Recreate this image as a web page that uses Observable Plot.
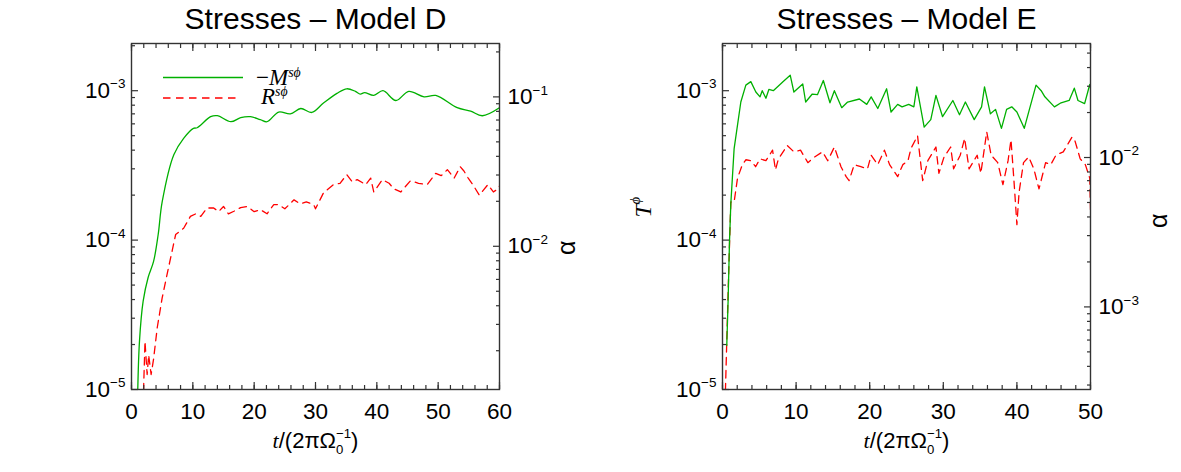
<!DOCTYPE html>
<html>
<head>
<meta charset="utf-8">
<script src="https://cdn.jsdelivr.net/npm/d3@7"></script>
<script src="https://cdn.jsdelivr.net/npm/@observablehq/plot@0.6"></script>
<style>
  body { margin: 0; background: #fff; }
  #wrap { position: relative; width: 1181px; height: 472px; overflow: hidden; }
  #wrap svg { position: absolute; top: 0; overflow: visible; }
</style>
</head>
<body>
<div id="wrap"></div>
<script>
// ---------------- DATA ----------------
// Model D: -M^{s phi} (green, solid)
const tD_M = [1.0, 1.3, 1.9, 2.7, 3.6, 4.35, 5.0, 6.9, 8.5, 10.1, 10.7, 12.9, 14.0, 16.2, 17.8, 19.4, 21.0, 22.1, 24.0, 25.9, 27.6, 29.4, 31.3, 33.5, 35.1, 36.5, 37.3, 38.0, 39.5, 41.0, 43.1, 45.2, 47.7, 49.6, 53.1, 55.3, 57.2, 60.0];
const vD_M = [9e-6, 2.1e-5, 3.9e-5, 5.6e-5, 7.2e-5, 1.09e-4, 1.8e-4, 3.73e-4, 4.8e-4, 5.6e-4, 5.65e-4, 6.7e-4, 6.8e-4, 6.2e-4, 6.6e-4, 6.7e-4, 6.4e-4, 6.2e-4, 7.2e-4, 7.0e-4, 7.6e-4, 7.15e-4, 8.26e-4, 9.6e-4, 1.03e-3, 9.9e-4, 9.5e-4, 9.7e-4, 9.3e-4, 1.0e-3, 8.6e-4, 9.9e-4, 9.1e-4, 9.3e-4, 7.7e-4, 7.3e-4, 6.8e-4, 7.7e-4];
// Model D: R^{s phi} (red, dashed)
const tD_R = [1.9, 2.2, 2.55, 2.8, 3.2, 3.6, 4.2, 5.0, 5.8, 7.2, 8.5, 9.6, 10.5, 11.3, 12.3, 13.4, 14.2, 15.0, 15.8, 16.7, 17.8, 18.9, 20.0, 21.0, 22.1, 23.2, 24.0, 25.0, 26.5, 27.5, 28.5, 29.7, 30.0, 31.3, 32.9, 34.0, 35.1, 36.0, 36.8, 38.2, 39.0, 39.5, 40.9, 42.0, 42.8, 43.9, 45.5, 46.8, 48.2, 49.6, 50.5, 51.5, 52.6, 53.6, 54.2, 54.9, 55.8, 56.7, 58.1, 59.0, 59.7, 60.0];
const vD_R = [8e-6, 2.1e-5, 1.26e-5, 1.7e-5, 1.26e-5, 1.6e-5, 2.6e-5, 4.1e-5, 5.9e-5, 1.09e-4, 1.2e-4, 1.44e-4, 1.5e-4, 1.44e-4, 1.64e-4, 1.64e-4, 1.55e-4, 1.68e-4, 1.5e-4, 1.56e-4, 1.65e-4, 1.68e-4, 1.55e-4, 1.6e-4, 1.5e-4, 1.73e-4, 1.73e-4, 1.62e-4, 1.86e-4, 1.75e-4, 1.8e-4, 1.73e-4, 1.62e-4, 2.07e-4, 2.35e-4, 2.4e-4, 2.74e-4, 2.45e-4, 2.54e-4, 2.35e-4, 2.6e-4, 2.1e-4, 2.54e-4, 2.4e-4, 2.2e-4, 2.1e-4, 2.5e-4, 2.4e-4, 2.35e-4, 2.8e-4, 2.7e-4, 2.96e-4, 2.6e-4, 3.1e-4, 2.9e-4, 2.6e-4, 2.3e-4, 2.0e-4, 2.35e-4, 2.1e-4, 2.2e-4, 2.3e-4];

// Model E: green (solid)
const tE_M = [0.58, 0.76, 0.95, 1.13, 1.58, 2.49, 3.17, 3.85, 4.53, 5.1, 5.4, 5.9, 6.3, 6.9, 8.4, 9.2, 9.7, 10.9, 11.3, 12.2, 12.9, 13.7, 14.6, 15.2, 16.2, 17.0, 18.6, 19.6, 20.2, 21.1, 22.3, 22.9, 23.8, 24.4, 25.3, 26.0, 26.4, 27.4, 28.3, 29.0, 29.9, 31.3, 32.2, 33.0, 34.2, 35.2, 35.6, 36.4, 37.1, 37.9, 38.6, 39.3, 40.0, 41.0, 41.7, 42.6, 43.3, 43.8, 45.1, 46.0, 47.1, 47.8, 48.3, 49.2, 49.9, 50.0];
const vE_M = [1.97e-5, 3.9e-5, 9.8e-5, 1.75e-4, 4.1e-4, 8.4e-4, 1.09e-3, 1.15e-3, 9.8e-4, 9.1e-4, 1.0e-3, 8.9e-4, 1.02e-3, 1.0e-3, 1.17e-3, 1.27e-3, 9.8e-4, 1.11e-3, 8.4e-4, 9.5e-4, 9.4e-4, 1.17e-3, 8.3e-4, 1.0e-3, 7.7e-4, 8.4e-4, 8.8e-4, 8.1e-4, 9.1e-4, 7.6e-4, 1.03e-3, 7.2e-4, 8.1e-4, 7.8e-4, 8.1e-4, 7.8e-4, 1.06e-3, 5.7e-4, 6.4e-4, 9.3e-4, 6.7e-4, 8.6e-4, 6.9e-4, 8.4e-4, 6.4e-4, 7.8e-4, 1.06e-3, 7.0e-4, 7.5e-4, 5.6e-4, 7.5e-4, 7.8e-4, 7.2e-4, 5.6e-4, 7.5e-4, 1.09e-3, 1.0e-3, 9.1e-4, 7.8e-4, 8.3e-4, 8.6e-4, 1.04e-3, 8.6e-4, 8.2e-4, 1.1e-3, 1.05e-3];
// Model E: red (dashed)
const tE_R = [0.35, 0.58, 0.86, 1.13, 1.58, 2.04, 2.7, 3.17, 3.85, 4.5, 5.1, 5.9, 6.8, 7.2, 7.6, 8.8, 9.7, 10.6, 11.6, 12.5, 13.6, 14.3, 15.2, 16.1, 16.8, 17.2, 17.9, 18.8, 19.7, 20.2, 21.1, 22.0, 22.7, 23.8, 24.5, 25.2, 25.6, 26.5, 27.2, 27.9, 29.0, 29.4, 30.1, 31.0, 31.4, 32.3, 32.9, 33.5, 34.6, 35.1, 35.9, 36.5, 37.4, 38.1, 38.8, 39.2, 39.6, 40.0, 40.3, 40.9, 41.6, 42.3, 43.0, 43.9, 44.6, 45.3, 46.3, 47.5, 47.9, 48.6, 49.3, 49.9, 50.0];
const vE_R = [8e-6, 2.1e-5, 6.6e-5, 1.8e-4, 1.8e-4, 2.6e-4, 3.2e-4, 3.45e-4, 3.4e-4, 3.1e-4, 3.5e-4, 3.4e-4, 4.0e-4, 2.95e-4, 3.5e-4, 4.3e-4, 3.9e-4, 4.0e-4, 3.3e-4, 3.6e-4, 3.9e-4, 3.4e-4, 4.2e-4, 3.1e-4, 2.66e-4, 2.5e-4, 3.2e-4, 3.1e-4, 3.0e-4, 3.7e-4, 3.2e-4, 4.0e-4, 3.2e-4, 2.66e-4, 3.2e-4, 3.4e-4, 4.1e-4, 5.0e-4, 2.5e-4, 3.4e-4, 4.2e-4, 2.8e-4, 3.6e-4, 4.2e-4, 3.0e-4, 3.7e-4, 4.8e-4, 3.0e-4, 3.7e-4, 2.8e-4, 5.3e-4, 3.7e-4, 3.3e-4, 2.35e-4, 3.4e-4, 4.7e-4, 2.5e-4, 1.27e-4, 2.1e-4, 3.3e-4, 3.6e-4, 3.0e-4, 2.2e-4, 3.3e-4, 3.2e-4, 3.7e-4, 3.9e-4, 4.9e-4, 4.6e-4, 3.5e-4, 3.2e-4, 2.6e-4, 1.6e-4];

// Axes / labels
const titles = ["Stresses – Model D", "Stresses – Model E"];
const xMaxD = 60, xMaxE = 50;
const xTicksD = [0, 10, 20, 30, 40, 50, 60];
const xTicksE = [0, 10, 20, 30, 40, 50];
const xTickLabelsD = ["0", "10", "20", "30", "40", "50", "60"];
const xTickLabelsE = ["0", "10", "20", "30", "40", "50"];
const yDomain = [1e-5, 2.07e-3];
const yTicks = [1e-5, 1e-4, 1e-3];
const yTickLabels = ["10^{−5}", "10^{−4}", "10^{−3}"];
const alphaFactorD = 110, alphaFactorE = 28;
const alphaTicksD = [1e-2, 1e-1];
const alphaTickLabelsD = ["10^{−2}", "10^{−1}"];
const alphaTicksE = [1e-3, 1e-2];
const alphaTickLabelsE = ["10^{−3}", "10^{−2}"];
const xLabel = "*t*/(2πΩ_{0}^{−1})";
const yLabelE = "*T*^{ϕ}";
const alphaLabel = "α";
// legend: [prefix, symbol, superscript]
const legendParts = [["−", "M", "sϕ"], ["", "R", "sϕ"]];

// ---------------- STYLE ----------------
const GREEN = "#00b000", RED = "#ff0000", INK = "#333";
const SANS = "'Liberation Sans', Arial, Helvetica, sans-serif";
const SERIF = "'Liberation Serif', 'Times New Roman', serif";
const W = 590, H = 472;
const ML = 131, MR = 91, MT = 43, MB = 83;

function logMinor(lo, hi) {
  const out = [];
  for (let e = Math.floor(Math.log10(lo)); e <= Math.ceil(Math.log10(hi)); e++)
    for (let k = 2; k <= 9; k++) { const v = k * Math.pow(10, e); if (v >= lo && v <= hi) out.push(v); }
  return out;
}
function stepMinor(max, step) { return d3.range(0, max + 1e-9, step); }

// tiny markup: *italic*, ^{super}, _{sub}
function richify(root) {
  d3.select(root).selectAll("text").each(function () {
    const s = this.textContent;
    if (!/[\^_*]/.test(s)) return;
    const fs = parseFloat(getComputedStyle(this).fontSize) || 22;
    this.textContent = "";
    const re = /\^\{([^}]*)\}|_\{([^}]*)\}|\*([^*]*)\*|([^^_*]+)/g;
    let m, shift = 0, lastSubW = 0;
    while ((m = re.exec(s))) {
      const ts = d3.select(this).append("tspan");
      let target = 0, txt;
      if (m[1] !== undefined) {
        txt = m[1]; target = -0.42 * fs; ts.attr("font-size", 0.6 * fs);
        if (lastSubW) ts.attr("dx", -lastSubW);
      } else if (m[2] !== undefined) {
        txt = m[2]; target = 0.3 * fs; ts.attr("font-size", 0.6 * fs);
      } else if (m[3] !== undefined) {
        txt = m[3]; ts.attr("font-style", "italic").attr("font-family", SERIF);
      } else txt = m[4];
      if (target !== shift) ts.attr("dy", target - shift);
      shift = target;
      ts.text(txt);
      lastSubW = m[2] !== undefined ? ts.node().getComputedTextLength() : 0;
    }
  });
}

function panel(o) {
  const green = o.tM.map((t, i) => ({t, v: o.vM[i]}));
  const red = o.tR.map((t, i) => ({t, v: o.vR[i]}));
  const f = o.alphaFactor;
  const yMinor = logMinor(yDomain[0], yDomain[1]);
  const aMajor = o.alphaTicks.map(a => a / f);
  const aMinor = logMinor(yDomain[0] * f, yDomain[1] * f).map(a => a / f);
  const xMinor = stepMinor(o.xMax, 2);
  const tk = {stroke: INK, strokeWidth: 1.2, tickFormat: () => "", label: null};
  const marks = [
    Plot.line(red, {x: "t", y: "v", stroke: RED, strokeWidth: 1.3, strokeDasharray: "7.5,5.5", clip: true}),
    Plot.line(green, {x: "t", y: "v", stroke: GREEN, strokeWidth: 1.3, clip: true, curve: o.curve}),
    Plot.frame({stroke: INK, strokeWidth: 1.4}),
    // x ticks (bottom & top, inward)
    Plot.axisX(o.xTicks, {anchor: "bottom", tickSize: 7, dy: -7, ...tk}),
    Plot.axisX(xMinor, {anchor: "bottom", tickSize: 4, dy: -4, ...tk}),
    Plot.axisX(o.xTicks, {anchor: "top", tickSize: 7, dy: 7, ...tk}),
    Plot.axisX(xMinor, {anchor: "top", tickSize: 4, dy: 4, ...tk}),
    // left y ticks
    Plot.axisY(yTicks, {anchor: "left", tickSize: 7, dx: 7, ...tk}),
    Plot.axisY(yMinor, {anchor: "left", tickSize: 4, dx: 4, ...tk}),
    // right alpha ticks
    Plot.axisY(aMajor, {anchor: "right", tickSize: 7, dx: -7, ...tk}),
    Plot.axisY(aMinor, {anchor: "right", tickSize: 4, dx: -4, ...tk}),
    // labels
    Plot.axisX(o.xTicks, {anchor: "bottom", tickSize: 0, tickPadding: 14, label: null,
      tickFormat: d => o.xTickLabels[o.xTicks.indexOf(d)]}),
    Plot.axisY(yTicks, {anchor: "left", tickSize: 0, tickPadding: 6, label: null,
      tickFormat: d => yTickLabels[yTicks.indexOf(d)]}),
    Plot.text(aMajor, {y: d => d, text: d => o.alphaTickLabels[aMajor.indexOf(d)],
      frameAnchor: "right", textAnchor: "start", lineAnchor: "middle", dx: 8}),
    Plot.text([o.title], {text: d => d, frameAnchor: "top", lineAnchor: "bottom", dy: -15, fontSize: 30}),
    Plot.text([xLabel], {text: d => d, frameAnchor: "bottom", lineAnchor: "bottom", dy: 58, fontSize: 22}),
    Plot.text([alphaLabel], {text: d => d, frameAnchor: "right", lineAnchor: "middle", rotate: -90, dx: o.alphaDx, dy: o.alphaDy, fontSize: 25})
  ];
  if (o.yLabel) marks.push(Plot.text([o.yLabel], {text: d => d, frameAnchor: "left", lineAnchor: "bottom", rotate: -90, dx: -72, dy: 1, fontSize: 24, fontFamily: SERIF, fontStyle: "italic"}));
  return Plot.plot({
    width: W, height: H,
    marginLeft: ML, marginRight: MR, marginTop: MT, marginBottom: MB,
    style: {fontFamily: SANS, fontSize: "22.5px", color: "#000", background: "transparent"},
    x: {domain: [0, o.xMax]},
    y: {type: "log", domain: yDomain},
    marks
  });
}

const wrap = document.getElementById("wrap");
const pD = panel({title: titles[0], tM: tD_M, vM: vD_M, tR: tD_R, vR: vD_R, xMax: xMaxD, xTicks: xTicksD, xTickLabels: xTickLabelsD,
  alphaFactor: alphaFactorD, alphaTicks: alphaTicksD, alphaTickLabels: alphaTickLabelsD, alphaDx: 67, alphaDy: 24, curve: "catmull-rom"});
const pE = panel({title: titles[1], tM: tE_M, vM: vE_M, tR: tE_R, vR: vE_R, xMax: xMaxE, xTicks: xTicksE, xTickLabels: xTickLabelsE,
  alphaFactor: alphaFactorE, alphaTicks: alphaTicksE, alphaTickLabels: alphaTickLabelsE, alphaDx: 68, alphaDy: -3, curve: "linear", yLabel: yLabelE});
pD.style.left = "0px";
pE.style.left = "591px";
wrap.appendChild(pD);
wrap.appendChild(pE);
richify(pD);
richify(pE);

// Legend (Model D panel): two line samples + one two-line label text
const lg = d3.select(pD).append("g").attr("text-anchor", "start");
lg.append("line").attr("x1", 163).attr("x2", 243).attr("y1", 77.5).attr("y2", 77.5)
  .attr("stroke", GREEN).attr("stroke-width", 1.3);
lg.append("line").attr("x1", 163).attr("x2", 238).attr("y1", 98).attr("y2", 98)
  .attr("stroke", RED).attr("stroke-width", 1.3).attr("stroke-dasharray", "7.5,5.5");
const LFS = 23;
const lt = lg.append("text").attr("text-anchor", "start").attr("font-family", SERIF).attr("font-size", LFS);
const rows = [{x: 256, y: 85}, {x: 261, y: 104}];
legendParts.forEach(([pre, sym, sup], i) => {
  const r = rows[i];
  if (pre) lt.append("tspan").attr("x", r.x).attr("y", r.y).text(pre);
  const s = lt.append("tspan").attr("y", r.y).attr("font-style", "italic").text(sym);
  if (!pre) s.attr("x", r.x);
  lt.append("tspan").attr("y", r.y - 0.36 * LFS).attr("font-size", 0.6 * LFS).attr("font-style", "italic").text(sup);
});
</script>
</body>
</html>
